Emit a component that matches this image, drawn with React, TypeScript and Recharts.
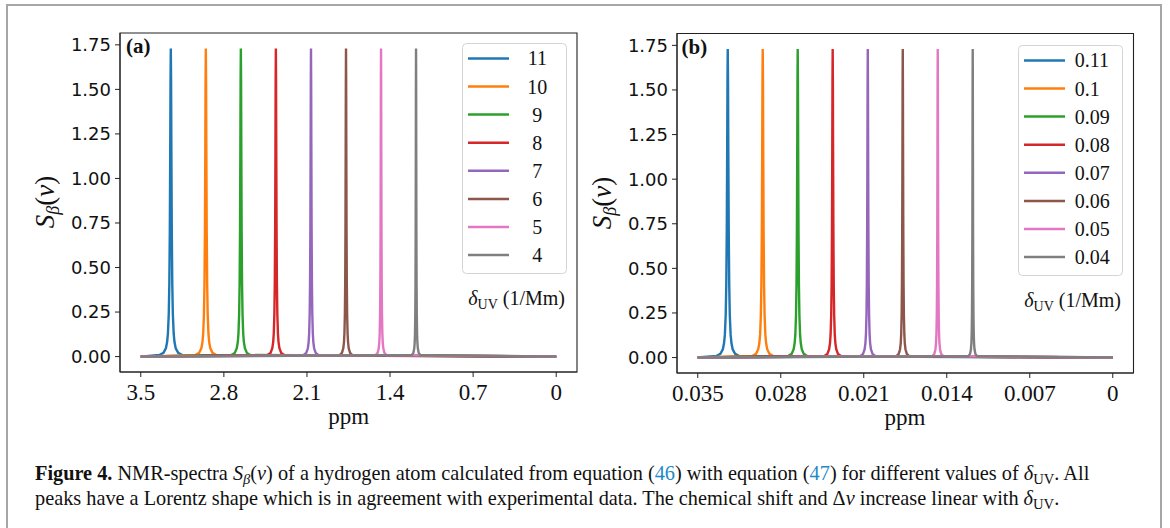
import { LineChart, Line, XAxis, YAxis, Legend, ReferenceArea } from "recharts";

// legend labels (delta_UV in 1/Mm)
const deltaA: string[] = ["11", "10", "9", "8", "7", "6", "5", "4"];
const deltaB: string[] = ["0.11", "0.1", "0.09", "0.08", "0.07", "0.06", "0.05", "0.04"];

// peak positions (ppm)
const centersA: number[] = [3.247, 2.952, 2.657, 2.362, 2.066, 1.771, 1.476, 1.181];
const centersB: number[] = [0.03247, 0.02952, 0.02657, 0.02362, 0.02066, 0.01771, 0.01476, 0.01181];
const peakHeights: number[] = [1.73, 1.73, 1.73, 1.73, 1.73, 1.73, 1.73, 1.73];
// half widths of the peaks (ppm), estimated from the flanks
const halfWidthsA: number[] = [0.0069, 0.0063, 0.0057, 0.005, 0.0044, 0.0038, 0.0032, 0.0025];
const halfWidthsB: number[] = [0.000069, 0.000063, 0.000057, 0.00005, 0.000044, 0.000038, 0.000032, 0.000025];

// shape of one peak: offset from centre (in half widths) and level (fraction of peak height)
const profileOffsets: number[] = [-14, -9, -6, -4.5, -3.5, -2.5, -1.8, -1.2, -0.7, -0.35, 0, 0.35, 0.7, 1.2, 1.8, 2.5, 3.5, 4.5, 6, 9, 14];
const profileLevels: number[] = [0.005, 0.012, 0.027, 0.047, 0.075, 0.138, 0.236, 0.41, 0.671, 0.891, 1, 0.891, 0.671, 0.41, 0.236, 0.138, 0.075, 0.047, 0.027, 0.012, 0.005];

const xTicksA: number[] = [3.5, 2.8, 2.1, 1.4, 0.7, 0];
const xTicksB: number[] = [0.035, 0.028, 0.021, 0.014, 0.007, 0];
const yTicks: number[] = [0, 0.25, 0.5, 0.75, 1.0, 1.25, 1.5, 1.75];

const COLOURS: string[] = ['#1f77b4', '#ff7f0e', '#2ca02c', '#d62728', '#9467bd', '#8c564b', '#e377c2', '#7f7f7f'];

const SERIF = '"Liberation Serif", "Times New Roman", serif';
const SANS = '"DejaVu Sans", sans-serif';
const LINK = '#1f8ac8';

function buildSeries(center: number, height: number, halfWidth: number, xMax: number) {
    const peak = profileOffsets.map((u, i) => ({ x: center + u * halfWidth, y: height * profileLevels[i] }));
    return [{ x: 0, y: 0 }, ...peak, { x: xMax, y: 0 }];
}

type PanelProps = {
    labels: string[];
    centers: number[];
    halfWidths: number[];
    xTicks: number[];
    xMax: number;
    width: number;
    height: number;
    plotTop: number;
    plotBottom: number;
    plotLeft: number;
    plotRight: number;
    legendLeft: number;
    legendTop: number;
    legendLabelX: number;
    legendLabelAnchor: "middle" | "start";
};

function LegendBox(props: { labels: string[]; labelX: number; anchor: "middle" | "start" }) {
    const { labels, labelX, anchor } = props;
    return (
        <svg width={112} height={270} style={{ display: 'block', overflow: 'visible' }}>
            <rect x={0.5} y={0.5} width={104} height={230} rx={4} fill="#fff" fillOpacity={0.8} stroke="#d4d4d4" />
            {labels.map((lab, i) => {
                const cy = 15.4 + 28.1 * i;
                return (
                    <g key={lab}>
                        <line x1={6} x2={47} y1={cy} y2={cy} stroke={COLOURS[i]} strokeWidth={2.5} />
                        <text x={labelX} y={cy + 7} textAnchor={anchor} fontFamily={SERIF} fontSize={20} fill="#111">{lab}</text>
                    </g>
                );
            })}
            <text x={103} y={261.5} textAnchor="end" fontFamily={SERIF} fontSize={20} fill="#111">
                <tspan fontStyle="italic">δ</tspan>
                <tspan fontSize={14} dy={4}>UV</tspan>
                <tspan dy={-4}>{"\u00a0(1/Mm)"}</tspan>
            </text>
        </svg>
    );
}

function Panel(p: PanelProps) {
    const xPad = p.xMax * 0.05;
    const yDomain: [number, number] = [-0.0865, 1.8165];
    return (
        <LineChart
            width={p.width}
            height={p.height}
            margin={{ top: p.plotTop, right: p.width - p.plotRight, bottom: 0, left: 0 }}
        >
            <XAxis
                type="number"
                dataKey="x"
                domain={[-xPad, p.xMax + xPad]}
                reversed
                allowDataOverflow
                ticks={p.xTicks}
                interval={0}
                tickFormatter={(v: number) => String(v)}
                height={p.height - p.plotBottom}
                tickSize={5}
                tickMargin={7}
                stroke="#222"
                tick={{ fontFamily: SERIF, fontSize: 23, fill: '#111' }}
            />
            <YAxis
                type="number"
                domain={yDomain}
                allowDataOverflow
                ticks={yTicks}
                interval={0}
                tickFormatter={(v: number) => v.toFixed(2)}
                width={p.plotLeft}
                tickSize={5}
                tickMargin={4}
                stroke="#222"
                tick={{ fontFamily: SANS, fontSize: 18, fill: '#111' }}
            />
            <ReferenceArea x1={-xPad} x2={p.xMax + xPad} y1={yDomain[0]} y2={yDomain[1]} fill="none" stroke="#222" strokeWidth={1.1} ifOverflow="visible" />
            {p.labels.map((lab, i) => (
                <Line
                    key={lab}
                    name={lab}
                    data={buildSeries(p.centers[i], peakHeights[i], p.halfWidths[i], p.xMax)}
                    dataKey="y"
                    type="linear"
                    stroke={COLOURS[i]}
                    strokeWidth={2.4}
                    dot={false}
                    activeDot={false}
                    isAnimationActive={false}
                />
            ))}
            <Legend
                layout="horizontal"
                align="center"
                verticalAlign="middle"
                wrapperStyle={{ left: p.legendLeft, top: p.legendTop, width: 112, height: 270 }}
                content={() => <LegendBox labels={p.labels} labelX={p.legendLabelX} anchor={p.legendLabelAnchor} />}
            />
        </LineChart>
    );
}

function YLabel(props: { x: number; y: number }) {
    return (
        <text transform={`translate(${props.x},${props.y}) rotate(-90)`} textAnchor="middle" fontFamily={SERIF} fontSize={27} fill="#111">
            <tspan fontStyle="italic">S</tspan>
            <tspan fontStyle="italic" fontSize={18} dy={5}>β</tspan>
            <tspan dy={-5}>(</tspan>
            <tspan fontStyle="italic">ν</tspan>
            <tspan>)</tspan>
        </text>
    );
}

function Sub(props: { children: React.ReactNode }) {
    return <span style={{ fontSize: '0.72em', position: 'relative', top: '0.28em' }}>{props.children}</span>;
}

export default function App() {
    return (
        <div style={{ position: 'absolute', left: 0, top: 0, width: 1170, height: 528, overflow: 'hidden', background: '#fff' }}>
            <div style={{ position: 'absolute', left: 6, top: 4, width: 1152, height: 540, borderTop: '2px solid #a6a6a6', borderLeft: '2px solid #a6a6a6', borderRight: '2px solid #a6a6a6' }} />

            <div style={{ position: 'absolute', left: 0, top: 0 }}>
                <Panel
                    labels={deltaA}
                    centers={centersA}
                    halfWidths={halfWidthsA}
                    xTicks={xTicksA}
                    xMax={3.5}
                    width={590}
                    height={440}
                    plotTop={33}
                    plotBottom={372}
                    plotLeft={120}
                    plotRight={577}
                    legendLeft={462}
                    legendTop={43}
                    legendLabelX={75.3}
                    legendLabelAnchor="middle"
                />
            </div>
            <div style={{ position: 'absolute', left: 580, top: 0 }}>
                <Panel
                    labels={deltaB}
                    centers={centersB}
                    halfWidths={halfWidthsB}
                    xTicks={xTicksB}
                    xMax={0.035}
                    width={575}
                    height={440}
                    plotTop={33.5}
                    plotBottom={373}
                    plotLeft={97}
                    plotRight={553.5}
                    legendLeft={438.3}
                    legendTop={44.8}
                    legendLabelX={56.8}
                    legendLabelAnchor="start"
                />
            </div>

            <svg width={1170} height={528} style={{ position: 'absolute', left: 0, top: 0, pointerEvents: 'none' }}>
                <text x={126} y={52.5} fontFamily={SERIF} fontWeight="bold" fontSize={21} fill="#111">(a)</text>
                <text x={681.5} y={53.5} fontFamily={SERIF} fontWeight="bold" fontSize={21} fill="#111">(b)</text>
                <text x={348.6} y={423.5} textAnchor="middle" fontFamily={SERIF} fontSize={23} fill="#111">ppm</text>
                <text x={905} y={424.5} textAnchor="middle" fontFamily={SERIF} fontSize={23} fill="#111">ppm</text>
                <YLabel x={54} y={202} />
                <YLabel x={611} y={203} />
            </svg>

            <div style={{ position: 'absolute', left: 35, top: 462, fontFamily: SERIF, fontSize: 20.3, lineHeight: '23px', whiteSpace: 'nowrap', color: '#111' }}>
                <div>
                    <b>Figure 4.</b> NMR-spectra <i>S</i><Sub><i>β</i></Sub>(<i>ν</i>) of a hydrogen atom calculated from equation (<span style={{ color: LINK }}>46</span>) with equation (<span style={{ color: LINK }}>47</span>) for different values of <i>δ</i><Sub>UV</Sub>. All
                </div>
                <div>
                    peaks have a Lorentz shape which is in agreement with experimental data. The chemical shift and Δ<i>ν</i> increase linear with <i>δ</i><Sub>UV</Sub>.
                </div>
            </div>
        </div>
    );
}
